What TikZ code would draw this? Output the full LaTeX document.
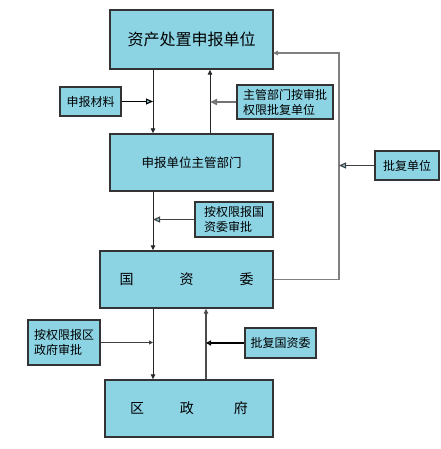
\documentclass[tikz,border=0pt]{standalone}
\usepackage{fontspec}
\setmainfont{Noto Sans CJK SC}
\usetikzlibrary{arrows.meta}
\definecolor{boxblue}{HTML}{8CD3E4}
\definecolor{edge}{HTML}{333333}
\tikzset{
  bigbox/.style={draw=edge, line width=1.4pt, fill=boxblue, rectangle, inner sep=0pt, align=center},
  sidebox/.style={draw=edge, line width=1.2pt, fill=boxblue, rectangle, inner sep=0pt, align=left, font=\fontsize{12pt}{15pt}\selectfont},
  mainline/.style={draw=black!85, line width=0.9pt, -{Triangle[length=5pt,width=4.5pt]}},
  sidearrow/.style={line width=1.1pt, -{Triangle[length=7pt,width=6pt,fill=boxblue]}},
}
\begin{document}
\begin{tikzpicture}[x=1pt,y=1pt]
\useasboundingbox[fill=white] (0,0) rectangle (440,-449);
% main boxes
\node[bigbox, minimum width=163pt, minimum height=59pt, font=\fontsize{16pt}{18pt}\selectfont] (b1) at (191.5,-39.5) {资产处置申报单位};
\node[bigbox, minimum width=163pt, minimum height=57pt, font=\fontsize{12.5pt}{15pt}\selectfont] (b2) at (191.5,-162.5) {申报单位主管部门};
\node[bigbox, minimum width=173pt, minimum height=57pt, font=\fontsize{14pt}{16pt}\selectfont] (gzw) at (186.5,-279.5) {国\hspace{46pt}资\hspace{46pt}委};
\node[bigbox, minimum width=168pt, minimum height=57pt, font=\fontsize{14pt}{16pt}\selectfont] (qzf) at (189,-408.5) {区\hspace{36pt}政\hspace{40pt}府};
% side boxes
\node[sidebox, minimum width=61pt, minimum height=29pt] (s1) at (90.5,-101.5) {申报材料};
\node[sidebox, minimum width=96pt, minimum height=34pt] (s2) at (285,-102) {主管部门按审批\\权限批复单位};
\node[sidebox, minimum width=64pt, minimum height=29pt] (s3) at (407,-165.5) {批复单位};
\node[sidebox, minimum width=78pt, minimum height=35pt] (s4) at (234,-219.5) {按权限报国\\资委审批};
\node[sidebox, minimum width=72pt, minimum height=45pt] (s5) at (64,-342.5) {按权限报区\\政府审批};
\node[sidebox, minimum width=71pt, minimum height=30pt] (s6) at (280.5,-343) {批复国资委};
% column coordinates
\coordinate (xa) at (153,0);
\coordinate (xb) at (210,0);
\coordinate (xc) at (206,0);
\coordinate (xr) at (339,0);
\coordinate (in1) at (273,-53);
% main flow
\draw[mainline] (xa |- b1.south) -- (xa |- b2.north);
\draw[mainline] (xb |- b2.north) -- (xb |- b1.south);
\draw[mainline] (xa |- b2.south) -- (xa |- gzw.north);
\draw[mainline] (xa |- gzw.south) -- (xa |- qzf.north);
\draw[mainline, line width=1.1pt, draw=black!70] (xc |- qzf.north) -- (xc |- gzw.south);
% loop back
\draw[draw=black!50, line width=1.3pt, -{Triangle[length=5pt,width=4.5pt,fill=black]}] (gzw.east) -- (xr |- gzw.east) -- (xr |- in1) -- (in1);
% side arrows
\draw[sidearrow, draw=black] (s1.east) -- (xa |- s1.east);
\draw[sidearrow, draw=black!55, line width=2pt] (s2.west) -- (xb |- s2.west);
\draw[sidearrow, draw=black!75] (s3.west) -- (xr |- s3.west);
\draw[sidearrow, draw=black!75] (s4.west) -- (xa |- s4.west);
\draw[sidearrow, draw=black!75, -{Triangle[length=4pt,width=4pt]}] (s5.east) -- (xa |- s5.east);
\draw[sidearrow, draw=black, line width=1.5pt, -{Triangle[length=5pt,width=5pt,fill=boxblue]}] (s6.west) -- (xc |- s6.west);
\end{tikzpicture}
\end{document}
